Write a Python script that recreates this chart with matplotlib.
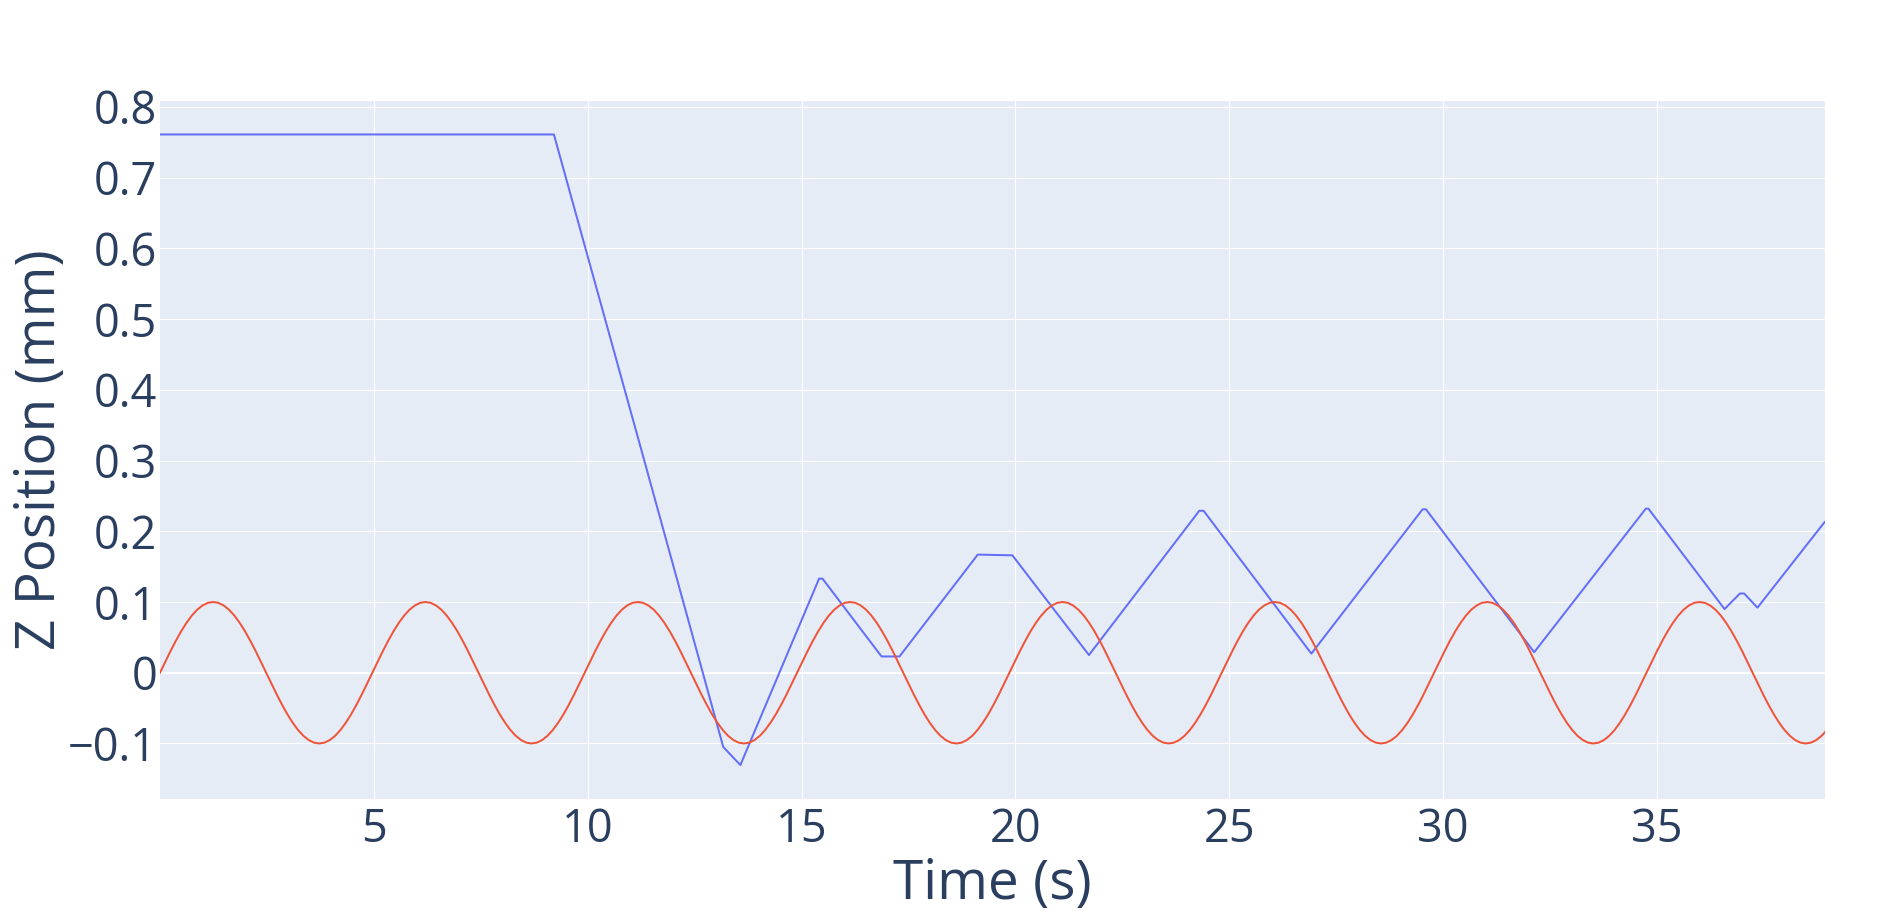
import numpy as np
import matplotlib
matplotlib.use("Agg")
import matplotlib.pyplot as plt

# ---------------- data ----------------
blue_time = [0.0, 9.21, 9.26, 11.25, 13.17, 13.57, 15.41, 15.49, 16.87, 17.29,
             19.12, 19.93, 21.72, 24.30, 24.40, 26.92, 29.52, 29.60, 32.13,
             34.74, 34.80, 36.58, 36.94, 37.04, 37.35, 38.92]
blue_z = [0.761, 0.761, 0.750, 0.316, -0.105, -0.1305, 0.133, 0.133, 0.023, 0.023,
          0.167, 0.166, 0.025, 0.229, 0.229, 0.027, 0.231, 0.231, 0.029,
          0.232, 0.232, 0.090, 0.112, 0.112, 0.092, 0.213]

# Red trace (commanded Z position), sampled every sample_dt seconds
sample_dt = 0.124125
red_z = [
    0, .0156, .0309, .0454, .0588, .0707, .0809, .0891, .0951, .0988, .1, .0988, .0951, .0891, .0809, .0707, .0588, .0454, .0309, .0156,
    0, -.0156, -.0309, -.0454, -.0588, -.0707, -.0809, -.0891, -.0951, -.0988, -.1, -.0988, -.0951, -.0891, -.0809, -.0707, -.0588, -.0454, -.0309, -.0156,
    0, .0156, .0309, .0454, .0588, .0707, .0809, .0891, .0951, .0988, .1, .0988, .0951, .0891, .0809, .0707, .0588, .0454, .0309, .0156,
    0, -.0156, -.0309, -.0454, -.0588, -.0707, -.0809, -.0891, -.0951, -.0988, -.1, -.0988, -.0951, -.0891, -.0809, -.0707, -.0588, -.0454, -.0309, -.0156,
    0, .0156, .0309, .0454, .0588, .0707, .0809, .0891, .0951, .0988, .1, .0988, .0951, .0891, .0809, .0707, .0588, .0454, .0309, .0156,
    0, -.0156, -.0309, -.0454, -.0588, -.0707, -.0809, -.0891, -.0951, -.0988, -.1, -.0988, -.0951, -.0891, -.0809, -.0707, -.0588, -.0454, -.0309, -.0156,
    0, .0156, .0309, .0454, .0588, .0707, .0809, .0891, .0951, .0988, .1, .0988, .0951, .0891, .0809, .0707, .0588, .0454, .0309, .0156,
    0, -.0156, -.0309, -.0454, -.0588, -.0707, -.0809, -.0891, -.0951, -.0988, -.1, -.0988, -.0951, -.0891, -.0809, -.0707, -.0588, -.0454, -.0309, -.0156,
    0, .0156, .0309, .0454, .0588, .0707, .0809, .0891, .0951, .0988, .1, .0988, .0951, .0891, .0809, .0707, .0588, .0454, .0309, .0156,
    0, -.0156, -.0309, -.0454, -.0588, -.0707, -.0809, -.0891, -.0951, -.0988, -.1, -.0988, -.0951, -.0891, -.0809, -.0707, -.0588, -.0454, -.0309, -.0156,
    0, .0156, .0309, .0454, .0588, .0707, .0809, .0891, .0951, .0988, .1, .0988, .0951, .0891, .0809, .0707, .0588, .0454, .0309, .0156,
    0, -.0156, -.0309, -.0454, -.0588, -.0707, -.0809, -.0891, -.0951, -.0988, -.1, -.0988, -.0951, -.0891, -.0809, -.0707, -.0588, -.0454, -.0309, -.0156,
    0, .0156, .0309, .0454, .0588, .0707, .0809, .0891, .0951, .0988, .1, .0988, .0951, .0891, .0809, .0707, .0588, .0454, .0309, .0156,
    0, -.0156, -.0309, -.0454, -.0588, -.0707, -.0809, -.0891, -.0951, -.0988, -.1, -.0988, -.0951, -.0891, -.0809, -.0707, -.0588, -.0454, -.0309, -.0156,
    0, .0156, .0309, .0454, .0588, .0707, .0809, .0891, .0951, .0988, .1, .0988, .0951, .0891, .0809, .0707, .0588, .0454, .0309, .0156,
    0, -.0156, -.0309, -.0454, -.0588, -.0707, -.0809, -.0891, -.0951, -.0988, -.1, -.0988, -.0951, -.0891, -.0809,
]
red_time = np.arange(len(red_z)) * sample_dt

x_ticks = [5, 10, 15, 20, 25, 30, 35]
y_ticks = [-0.1, 0, 0.1, 0.2, 0.3, 0.4, 0.5, 0.6, 0.7, 0.8]
y_tick_labels = ["\u22120.1", "0", "0.1", "0.2", "0.3", "0.4", "0.5", "0.6", "0.7", "0.8"]
x_label = "Time (s)"
y_label = "Z Position (mm)"

# ---------------- style ----------------
plt.rcParams['font.family'] = ['Open Sans', 'DejaVu Sans']
W, H = 1904, 911
fig = plt.figure(figsize=(W / 100, H / 100), dpi=100)
left, right, bottom, top = 160, 1824.6, 799, 100.5
ax = fig.add_axes([left / W, 1 - bottom / H, (right - left) / W, (bottom - top) / H])
ax.set_facecolor('#E5ECF6')
for s in ax.spines.values():
    s.set_visible(False)

px = 0.72  # one pixel in points
ax.set_axisbelow(True)
ax.grid(True, color='white', linewidth=1.2 * px)
ax.axhline(0, color='white', linewidth=2.2 * px, zorder=1)

ax.plot(blue_time, blue_z, color='#636EFA', linewidth=2 * px, zorder=3,
        solid_joinstyle='round')
ax.plot(red_time, red_z, color='#EF553B', linewidth=2 * px, zorder=4,
        solid_joinstyle='round')

ax.set_xlim(0, 38.92)
ax.set_ylim(-0.1785, 0.809)
ax.set_xticks(x_ticks)
ax.set_xticklabels([str(t) for t in x_ticks])
ax.set_yticks(y_ticks)
ax.set_yticklabels(y_tick_labels)

text_color = '#2A3F5F'
ax.tick_params(axis='both', length=0, labelsize=32.5, colors=text_color)
ax.tick_params(axis='x', pad=6)
ax.tick_params(axis='y', pad=2)

fig.text(992 / W, (H - 899) / H, x_label, ha='center', va='baseline',
         fontsize=39.5, color=text_color)
fig.text(55 / W, 1 - 450 / H, y_label, rotation=90, rotation_mode='anchor',
         ha='center', va='baseline', fontsize=39.5, color=text_color)

fig.savefig('out.png', dpi=100, facecolor='white')
